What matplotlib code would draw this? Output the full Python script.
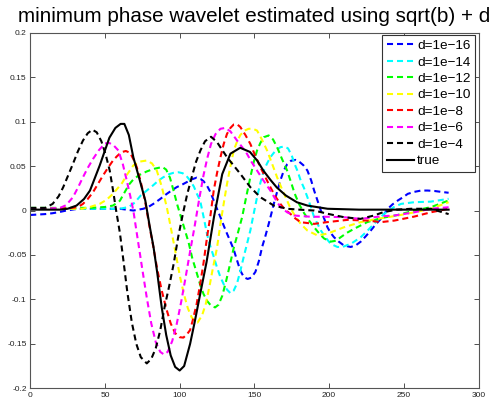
import matplotlib
matplotlib.use("Agg")
import matplotlib.pyplot as plt

plt.rcParams['font.family'] = ['Liberation Sans', 'DejaVu Sans']

# ---- data ----
x_d16 = [0, 5, 10, 15, 20, 24.2, 30, 35.3, 50, 60, 69, 75.7, 79, 82.4, 87, 91.4, 95, 98, 101.5, 104.8, 108, 111.4, 114, 116, 118.3, 120.5, 122.8, 125, 127.3, 129.5, 131.7, 134, 136.2, 138.4, 140.6, 143, 145.5, 148, 150.7, 153, 155.2, 157.5, 159.6, 161.3, 163, 165.2, 167.4, 169.7, 171.9, 174.5, 177.5, 180, 182.8, 185.5, 188, 190, 192.3, 194.5, 196.7, 198.9, 201, 203.3, 206.5, 210, 214.5, 218, 221.2, 224.5, 227.9, 231, 234.6, 239.3, 242.5, 246, 249.5, 252.7, 257, 261.6, 266, 270.5, 275, 280]
y_d16 = [-0.005, -0.0045, -0.004, -0.003, -0.0015, 0.0, 0.0015, 0.002, 0.002, 0.002, 0.0, 0.002, 0.004, 0.0075, 0.013, 0.0188, 0.023, 0.0263, 0.029, 0.032, 0.035, 0.037, 0.0355, 0.033, 0.028, 0.021, 0.0113, 0.002, -0.0075, -0.017, -0.026, -0.035, -0.044, -0.056, -0.0676, -0.075, -0.077, -0.0755, -0.069, -0.057, -0.041, -0.028, -0.015, -0.004, 0.0075, 0.021, 0.0338, 0.045, 0.052, 0.056, 0.057, 0.055, 0.051, 0.045, 0.034, 0.0225, 0.011, 0.0, -0.009, -0.0188, -0.025, -0.030, -0.035, -0.0394, -0.041, -0.039, -0.035, -0.029, -0.0225, -0.016, -0.0094, 0.002, 0.007, 0.0113, 0.015, 0.0188, 0.021, 0.0225, 0.0225, 0.022, 0.021, 0.020]

x_d14 = [0, 20, 40, 60, 66, 70, 74, 78, 82, 86, 89.1, 93, 96, 99.1, 102, 104.5, 107, 109.5, 111.5, 113.7, 116, 118.4, 120.5, 122.8, 125, 127.3, 129.5, 131.7, 134, 136.2, 138.4, 140.6, 142.9, 145, 147.3, 149.5, 151.8, 154, 156.3, 158.5, 160.7, 163.5, 167.4, 170, 172.5, 175, 177, 179, 181, 183.3, 185.5, 187.8, 190, 192.3, 194.5, 198, 201.1, 205.6, 209, 215, 221.2, 225.5, 230.1, 233.5, 236.8, 239.3, 243.5, 248.2, 257, 268, 280]
y_d14 = [0.002, 0.002, 0.002, 0.002, 0.004, 0.009, 0.017, 0.0225, 0.028, 0.034, 0.0375, 0.041, 0.0425, 0.0431, 0.042, 0.039, 0.0338, 0.027, 0.019, 0.0113, -0.007, -0.027, -0.04, -0.052, -0.064, -0.075, -0.083, -0.089, -0.093, -0.090, -0.082, -0.068, -0.052, -0.038, -0.0225, -0.004, 0.015, 0.031, 0.045, 0.053, 0.06, 0.066, 0.0713, 0.072, 0.070, 0.062, 0.052, 0.044, 0.0338, 0.025, 0.015, 0.004, -0.0075, -0.015, -0.0225, -0.031, -0.0375, -0.041, -0.041, -0.037, -0.030, -0.023, -0.015, -0.009, -0.0037, -0.001, 0.004, 0.0075, 0.0094, 0.010, 0.0132]

x_d12 = [0, 20, 40, 50, 55.4, 60, 63, 66, 69, 73, 78, 83, 88.5, 91, 93.5, 96, 98.5, 101, 103.5, 106, 108.5, 111.4, 114, 116, 118.5, 121, 123.7, 126, 128.5, 131, 133.5, 136.2, 139, 141.8, 144.5, 147.3, 149.5, 151.8, 154, 156.3, 159.6, 162.5, 165.2, 168.5, 171.9, 174.5, 177, 180, 183.3, 186.5, 190, 193.5, 196.7, 201.1, 204.5, 207.8, 212, 216.7, 225.6, 234.8, 246, 257, 268, 280]
y_d12 = [0.003, 0.003, 0.003, 0.004, 0.0056, 0.011, 0.020, 0.029, 0.035, 0.040, 0.044, 0.047, 0.049, 0.046, 0.037, 0.022, 0.006, -0.008, -0.022, -0.036, -0.054, -0.07, -0.085, -0.094, -0.102, -0.107, -0.109, -0.106, -0.096, -0.080, -0.062, -0.042, -0.025, -0.0075, 0.015, 0.0375, 0.054, 0.0676, 0.076, 0.0825, 0.0845, 0.080, 0.0713, 0.058, 0.045, 0.032, 0.019, 0.007, -0.003, -0.011, -0.0188, -0.026, -0.0315, -0.035, -0.034, -0.030, -0.025, -0.0206, -0.013, -0.0085, -0.005, 0.0, 0.0037, 0.0113]

x_d10 = [0, 20, 35, 40, 46.5, 51, 55.4, 58.5, 61.5, 65, 69, 73, 78, 81.5, 84.7, 88, 91.4, 93.6, 97, 100.3, 103, 105.5, 108, 110.5, 112, 115, 117.5, 120, 122, 125, 127.3, 129.5, 131.7, 134, 136.2, 138.5, 140.6, 143.5, 146.2, 149, 151.8, 155, 158.5, 162, 165.2, 168.5, 171.9, 174, 176.4, 181, 185.5, 192.2, 198.9, 210, 221.2, 232.3, 246, 257, 268, 280]
y_d10 = [0.002, 0.002, 0.002, 0.004, 0.0075, 0.012, 0.0188, 0.025, 0.031, 0.041, 0.0507, 0.055, 0.0563, 0.053, 0.045, 0.027, 0.0037, -0.015, -0.045, -0.075, -0.095, -0.110, -0.120, -0.125, -0.126, -0.118, -0.105, -0.085, -0.067, -0.042, -0.015, 0.008, 0.030, 0.050, 0.0676, 0.078, 0.085, 0.090, 0.092, 0.092, 0.090, 0.080, 0.0676, 0.052, 0.0375, 0.024, 0.0113, 0.003, -0.0037, -0.015, -0.0225, -0.028, -0.026, -0.0188, -0.013, -0.0094, -0.0056, -0.002, 0.002, 0.0094]

x_d8 = [0, 10, 20, 28, 32, 35.3, 38.5, 42, 45, 48.7, 52, 55.4, 58, 61, 64, 66.8, 69, 71.3, 74, 76.8, 79.5, 82.4, 85, 88, 91, 94, 97, 100, 102.5, 105, 107, 109, 111.4, 113.5, 115.9, 118.5, 120.5, 122.8, 125, 127.3, 129.5, 131.7, 134, 136.2, 138.5, 140.6, 144, 147.3, 150.5, 154, 157.5, 160.7, 164, 167.4, 170.5, 174.1, 177.5, 181, 190, 198.9, 212.3, 225.6, 234.9, 243.7, 257, 268, 280]
y_d8 = [0.002, 0.002, 0.002, 0.003, 0.004, 0.0075, 0.013, 0.0206, 0.029, 0.0394, 0.048, 0.0563, 0.061, 0.0657, 0.067, 0.065, 0.058, 0.0488, 0.032, 0.0113, -0.015, -0.041, -0.066, -0.09, -0.11, -0.127, -0.138, -0.1425, -0.143, -0.139, -0.1345, -0.122, -0.105, -0.085, -0.060, -0.028, -0.007, 0.0225, 0.042, 0.06, 0.075, 0.0863, 0.093, 0.0968, 0.097, 0.094, 0.085, 0.075, 0.062, 0.0488, 0.037, 0.0263, 0.016, 0.0075, 0.001, -0.0037, -0.009, -0.0131, -0.015, -0.013, -0.0105, -0.0113, -0.013, -0.0113, -0.0068, -0.002, 0.002]

x_d6 = [0, 10, 20, 24, 28.6, 32, 35.3, 38.5, 42, 46, 50, 53, 56, 59, 62, 64.6, 67, 69, 72, 75, 78, 81, 84, 87, 89.5, 92, 95, 98, 101, 104, 107, 110, 113, 116, 118.5, 121, 124, 127.3, 130.6, 134, 138.4, 142, 145, 148, 151.8, 156, 160.7, 164, 167.4, 172, 176.6, 187.7, 198.9, 210, 221, 234.8, 243.7, 257, 268, 280]
y_d6 = [0.002, 0.002, 0.003, 0.006, 0.015, 0.026, 0.0375, 0.048, 0.058, 0.068, 0.0755, 0.076, 0.073, 0.0676, 0.052, 0.0338, 0.016, 0.0, -0.033, -0.066, -0.098, -0.127, -0.148, -0.159, -0.162, -0.159, -0.147, -0.128, -0.103, -0.075, -0.046, -0.018, 0.012, 0.040, 0.059, 0.075, 0.086, 0.092, 0.093, 0.089, 0.0788, 0.071, 0.064, 0.055, 0.045, 0.034, 0.0225, 0.013, 0.004, -0.002, -0.0056, -0.007, -0.007, -0.0075, -0.0094, -0.0065, -0.0056, -0.002, 0.002, 0.0037]

x_d4 = [0, 5, 10, 15, 19, 22, 25.5, 28.6, 32, 35.3, 38.5, 41.6, 44.5, 47.6, 50.5, 53.2, 55.5, 57.5, 60, 62.5, 65, 68, 71, 74, 78, 81, 84, 87, 90, 93, 96, 99, 102, 105, 108, 111, 114, 117, 121, 125, 131.7, 140.6, 147.3, 154, 163, 172, 180, 190, 200, 210, 221, 230, 236, 245, 255, 268, 280]
y_d4 = [0.003, 0.003, 0.003, 0.0075, 0.016, 0.026, 0.040, 0.0526, 0.067, 0.0788, 0.087, 0.091, 0.088, 0.078, 0.063, 0.045, 0.022, 0.0, -0.025, -0.058, -0.092, -0.126, -0.150, -0.165, -0.172, -0.167, -0.155, -0.135, -0.108, -0.085, -0.060, -0.030, -0.005, 0.018, 0.037, 0.055, 0.068, 0.078, 0.083, 0.077, 0.060, 0.0413, 0.0263, 0.015, 0.0056, 0.002, 0.001, 0.0, -0.004, -0.0075, -0.0094, -0.0056, -0.002, 0.001, 0.002, 0.002, -0.004]

x_true = [0, 10, 20, 25, 31, 36, 40, 46.5, 53, 57, 60.5, 63, 66, 69, 73, 77, 80, 82.5, 85, 88, 91, 94, 97, 100, 103, 107, 110, 113.5, 118, 123, 128.5, 134, 140.5, 147, 152, 156, 161, 165, 171, 178.5, 185.5, 199, 220, 250, 280]
y_true = [0.001, 0.001, 0.001, 0.002, 0.0056, 0.013, 0.0225, 0.0507, 0.082, 0.093, 0.0975, 0.0975, 0.085, 0.060, 0.036, 0.0113, -0.018, -0.041, -0.07, -0.109, -0.14, -0.163, -0.176, -0.180, -0.175, -0.150, -0.126, -0.096, -0.058, -0.007, 0.041, 0.064, 0.0706, 0.066, 0.056, 0.045, 0.034, 0.026, 0.017, 0.0093, 0.0056, 0.002, 0.001, 0.001, 0.001]

labels = ['d=1e\u221216', 'd=1e\u221214', 'd=1e\u221212', 'd=1e\u221210',
          'd=1e\u22128', 'd=1e\u22126', 'd=1e\u22124', 'true']
colors = ['#0000ff', '#00ffff', '#00ff00', '#ffff00', '#ff0000', '#ff00ff', '#000000', '#000000']

x_ticks = [0, 50, 100, 150, 200, 250, 300]
x_tick_labels = ['0', '50', '100', '150', '200', '250', '300']
y_ticks = [-0.2, -0.15, -0.1, -0.05, 0, 0.05, 0.1, 0.15, 0.2]
y_tick_labels = ['-0.2', '-0.15', '-0.1', '-0.05', '0', '0.05', '0.1', '0.15', '0.2']

title = 'minimum phase wavelet estimated using sqrt(b) + d'

# ---- figure ----
fig = plt.figure(figsize=(4.93, 4.00), dpi=100)
ax = fig.add_axes([0.0613, 0.0293, 0.9093, 0.8887])

series = [(x_d16, y_d16), (x_d14, y_d14), (x_d12, y_d12), (x_d10, y_d10),
          (x_d8, y_d8), (x_d6, y_d6), (x_d4, y_d4)]
for (xs, ys), lab, col in zip(series, labels[:7], colors[:7]):
    ax.plot(xs, ys, color=col, lw=1.5, linestyle=(0, (2.9, 1.9)), label=lab)
ax.plot(x_true, y_true, color=colors[7], lw=1.5, label=labels[7])

ax.set_xlim(0, 300)
ax.set_ylim(-0.2, 0.2)
ax.set_xticks(x_ticks)
ax.set_xticklabels(x_tick_labels)
ax.set_yticks(y_ticks)
ax.set_yticklabels(y_tick_labels)
ax.tick_params(direction='in', length=3.5, width=0.6, labelsize=6, top=True, right=True,
               colors='#333333', labelcolor='#222222', pad=2.5)
for s in ax.spines.values():
    s.set_color('#555555')
    s.set_linewidth(0.8)

leg = ax.legend(loc='upper right', bbox_to_anchor=(0.993, 0.994), fontsize=9.7,
                frameon=True, fancybox=False, framealpha=1, edgecolor='#333333',
                handlelength=2.0, handletextpad=0.25, labelspacing=0.3,
                borderpad=0.35, borderaxespad=0.0)
leg.get_frame().set_linewidth(0.8)

ax.set_title(title, fontsize=14.85, pad=8)

fig.savefig('out.png', dpi=100)
